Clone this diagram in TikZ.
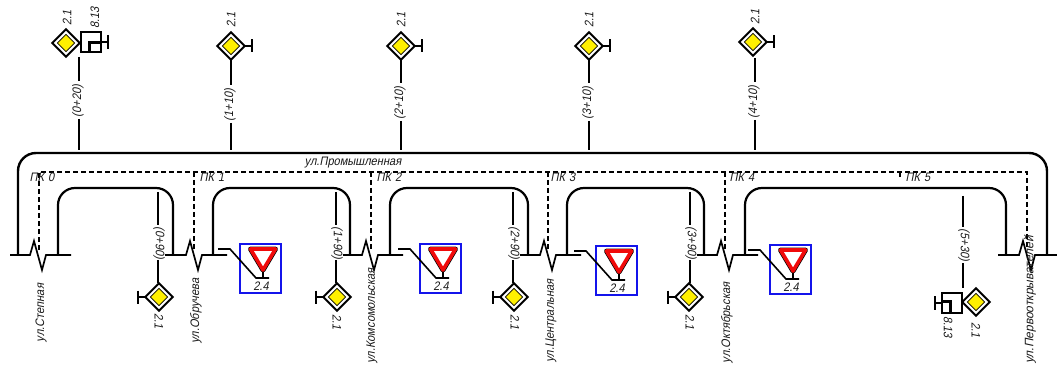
\documentclass[tikz,border=0pt]{standalone}
\usepackage{fontspec}
\usetikzlibrary{shapes.geometric,calc}
\setmainfont[FakeSlant=0.2,FakeStretch=0.9]{Liberation Sans}
\definecolor{signyellow}{RGB}{255,240,0}
\definecolor{signred}{RGB}{240,10,10}
\definecolor{signblue}{RGB}{20,20,235}
\tikzset{
  road/.style={line width=2.2pt,line join=round},
  pk/.style={line width=1.5pt,dash pattern=on 5pt off 3pt},
  leader/.style={line width=1.5pt},
  txt/.style={inner sep=0pt,outer sep=1pt,font=\fontsize{12.3}{13}\selectfont,text=black!90},
  outerd/.style={shape=diamond,draw=black,line width=1.9pt,fill=white,minimum width=27.5pt,minimum height=27.5pt,inner sep=0pt,outer sep=0pt},
  innerd/.style={shape=diamond,draw=black,line width=.6pt,fill=signyellow,minimum width=17.5pt,minimum height=17.5pt,inner sep=0pt},
  tbar/.style={line width=1.7pt},
  boxsq/.style={draw=black,line width=1.5pt,fill=white,minimum width=20pt,minimum height=20pt,inner sep=0pt,outer sep=0pt},
  bluebox/.style={draw=signblue,line width=2pt},
}
% diamond with optional T bar: id, x, y, side (+1 right, -1 left, 0 none)
\newcommand{\prisign}[4]{%
  \ifnum#4=0\else
    \coordinate (#1t) at ($(#2,#3)+(#4*21,0)$);
    \draw[tbar] (#2,#3) -- (#1t);
    \draw[tbar] ($(#1t)+(0,-6.5)$) -- ($(#1t)+(0,6.5)$);
  \fi
  \node[outerd] (#1) at (#2,#3) {};
  \node[innerd] (#1in) at (#2,#3) {};
}
% 8.13 plate: id, x, y (centre), side
\newcommand{\platesign}[4]{%
  \node[boxsq] (#1) at (#2,#3) {};
  \coordinate (#1t) at ($(#2,#3)+(#4*17,0)$);
  \draw[tbar] ($(#2,#3)+(#4*10,0)$) -- (#1t);
  \draw[tbar] ($(#1t)+(0,-7)$) -- ($(#1t)+(0,7)$);
  \draw[line width=3pt] ($(#2,#3)+(#4*9.5,#4*1.5-0.5)$) -- ($(#2,#3)+(-1.5,#4*1.5-0.5)$) -- ($(#2,#3)+(-1.5,10)$);
}
% yield sign: id, box-left x, box-top y
\newcommand{\yieldsign}[3]{%
  \node[draw=none,inner sep=0pt,minimum width=41pt,minimum height=49pt] (#1) at (#2+20.5,#3+24.5) {};
  \draw[bluebox] (#1.north west) rectangle (#1.south east);
  \coordinate (#1a) at (#2-22,#3+5);
  \coordinate (#1b) at (#2-10,#3+5);
  \coordinate (#1c) at (#2+16,#3+34);
  \coordinate (#1d) at (#2+29,#3+34);
  \draw[leader,line width=1.6pt] (#1a) -- (#1b) -- (#1c) -- (#1d);
  \draw[leader] (#2+23,#3+26) -- (#2+23,#3+34);
  \draw[black,line width=5pt,line join=round] (#2+10.5,#3+5) -- (#2+35.5,#3+5) -- (#2+23,#3+26) -- cycle;
  \draw[signred,line width=3.6pt,line join=round,fill=white] (#2+10.5,#3+5) -- (#2+35.5,#3+5) -- (#2+23,#3+26) -- cycle;
  \node[txt] (#1l) at (#2+21,#3+42) {2.4};
}
% top leader: id x ystart ytext yend label
\newcommand{\topleader}[6]{%
  \coordinate (#1a) at (#2,#3);
  \node[txt,rotate=90] (#1l) at (#2-1,#4) {#6};
  \coordinate (#1b) at (#2,#5);
  \draw[leader] (#1a) -- (#2,#4-20);
  \draw[leader] (#2,#4+18) -- (#1b);
}
% bottom leader: id x y1 y2 y3 y4
\newcommand{\botleader}[6]{%
  \coordinate (#1a) at (#2,#3);
  \coordinate (#1b) at (#2,#4);
  \coordinate (#1c) at (#2,#5);
  \coordinate (#1d) at (#2,#6);
  \draw[leader] (#1a) -- (#1b);
  \draw[leader] (#1c) -- (#1d);
}
\newcommand{\rotlabel}[5]{\node[txt,rotate=#4] (#1) at (#2,#3) {#5};}
% zig-zag: id, left end, start of zig
\newcommand{\zig}[3]{%
  \coordinate (#1s) at (#2,255);
  \coordinate (#1e) at (#3+41,255);
  \draw[line width=1.7pt,line join=miter] (#1s) -- (#3,255) -- (#3+4,241) -- (#3+12,270) -- (#3+16,255) -- (#1e);
}
\newcommand{\block}[3]{%
  \coordinate (#3l) at (#1,255);
  \coordinate (#3r) at (#2,255);
  \draw[road,rounded corners=17pt] (#3l) -- (#1,188) -- (#2,188) -- (#3r);
}
\begin{document}
\begin{tikzpicture}[x=1pt,y=-1pt]
\useasboundingbox (0,0) rectangle (1057,374);
% main road
\coordinate (ml) at (18,255); \coordinate (mr) at (1047,255);
\draw[road,line width=2.4pt,rounded corners=18pt] (ml) -- (18,153) -- (1047,153) -- (mr);
% PK dashed lines
\coordinate (p0) at (39,250); \coordinate (p5) at (1027,250);
\draw[pk] (p0) -- (39,172) -- (1027,172) -- (p5);
\foreach \px/\pn in {194/p1,371/p2,548/p3,725/p4}{
  \coordinate (\pn) at (\px,250);
  \draw[pk] (\px,172) -- (\pn);
}
\draw[line width=1.2pt] (900,172) -- (900,177);
% local roads
\block{58}{173}{ba}
\block{213}{350}{bb}
\block{390}{528}{bc}
\block{567}{704}{bd}
\block{745}{1006}{be}
% cross-street zig-zags
\zig{za}{10}{30}
\zig{zb}{165}{186}
\zig{zc}{343}{362}
\zig{zd}{520}{540}
\zig{ze}{697}{717}
\zig{zf}{998}{1019}
% street labels
\rotlabel{sa}{41}{313}{90}{ул.Степная}
\rotlabel{sb}{196}{311}{90}{ул.Обручева}
\rotlabel{sc}{372}{316}{90}{ул.Комсомольская}
\rotlabel{sd}{551}{321}{90}{ул.Центральная}
\rotlabel{se}{727}{323}{90}{ул.Октябрьская}
\node[txt,rotate=90,xscale=1.08] (sf) at (1030,300) {ул.Первооткрывателей};
\node[txt] (prom) at (353,163) {ул.Промышленная};
% PK labels
\node[txt] (k0) at (42,177) {ПК\,\,0};
\node[txt] (k1) at (212,177) {ПК\,\,1};
\node[txt] (k2) at (389,177) {ПК\,\,2};
\node[txt] (k3) at (563,177) {ПК\,\,3};
\node[txt] (k4) at (742,177) {ПК\,\,4};
\node[txt] (k5) at (918,177) {ПК\,\,5};
% top leaders
\topleader{ta}{79}{57}{101}{150}{(0+20)}
\topleader{tb}{231}{60}{105}{150}{(1+10)}
\topleader{tc}{401}{60}{103}{150}{(2+10)}
\topleader{td}{589}{60}{103}{150}{(3+10)}
\topleader{te}{755}{58}{102}{150}{(4+10)}
% top signs
\prisign{da}{66}{43}{0}
\platesign{pa}{91}{42}{1}
\prisign{db}{231}{46}{1}
\prisign{dc}{401}{46}{1}
\prisign{dd}{589}{46}{1}
\prisign{de}{753}{42}{1}
\rotlabel{la}{67}{18}{90}{2.1}
\rotlabel{lpa}{95}{18}{90}{8.13}
\rotlabel{lb}{231}{20}{90}{2.1}
\rotlabel{lc}{401}{20}{90}{2.1}
\rotlabel{ld}{589}{20}{90}{2.1}
\rotlabel{le}{755}{17}{90}{2.1}
% bottom leaders
\botleader{ua}{158}{192}{225}{260}{283}
\botleader{ub}{336}{192}{225}{260}{283}
\botleader{uc}{513}{192}{225}{260}{283}
\botleader{ud}{690}{192}{225}{260}{283}
\botleader{ue}{963}{196}{227}{263}{288}
\rotlabel{va}{159}{243}{-90}{(0+90)}
\rotlabel{vb}{337}{243}{-90}{(1+90)}
\rotlabel{vc}{514}{243}{-90}{(2+90)}
\rotlabel{vd}{691}{243}{-90}{(3+90)}
\rotlabel{ve}{964}{245}{-90}{(5+30)}
% bottom signs
\prisign{ga}{159}{297}{-1}
\prisign{gb}{337}{297}{-1}
\prisign{gc}{514}{297}{-1}
\prisign{gd}{689}{297}{-1}
\prisign{ge}{976}{302}{0}
\platesign{pe}{952}{303}{-1}
\rotlabel{ha}{159}{321}{-90}{2.1}
\rotlabel{hb}{337}{322}{-90}{2.1}
\rotlabel{hc}{515}{322}{-90}{2.1}
\rotlabel{hd}{690}{322}{-90}{2.1}
\rotlabel{he}{976}{330}{-90}{2.1}
\rotlabel{hp}{948}{327}{-90}{8.13}
% yield signs
\yieldsign{ya}{240}{244}
\yieldsign{yb}{420}{244}
\yieldsign{yc}{596}{246}
\yieldsign{yd}{770}{245}
\end{tikzpicture}
\end{document}
